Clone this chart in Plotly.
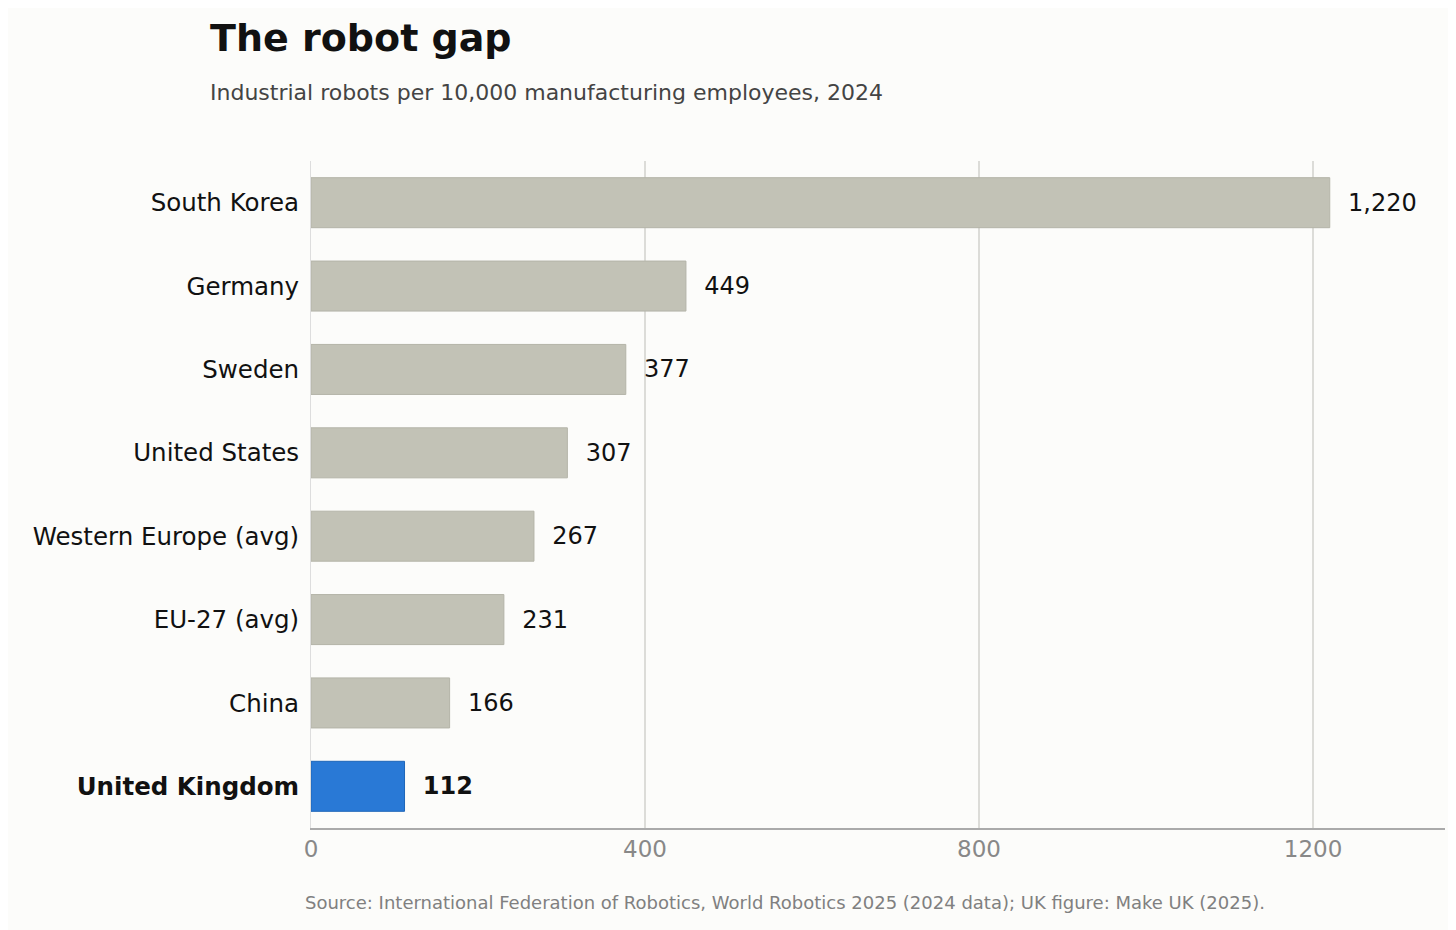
import plotly.graph_objects as go

countries = ["South Korea", "Germany", "Sweden", "United States",
             "Western Europe (avg)", "EU-27 (avg)", "China", "United Kingdom"]
robots = [1220, 449, 377, 307, 267, 231, 166, 112]
highlight = "United Kingdom"

GREY = "#C2C2B6"
BLUE = "#2979D6"
BG = "#FCFCFA"

colors = [BLUE if c == highlight else GREY for c in countries]
edges = ["#1F66B8" if c == highlight else "#B4B4A8" for c in countries]
labels = [f"  <b>{v:,}</b>" if c == highlight else f"  {v:,}" for c, v in zip(countries, robots)]
ticks = [f"<b>{c}</b>" if c == highlight else c for c in countries]

# margins in px, used to place the titles in paper coordinates
L, R, T, B = 303, 19, 153, 110
W, H = 1456, 930
pw, ph = W - L - R, H - T - B
def px(x): return (x - L) / pw
def py(y): return (H - B - y) / ph

fig = go.Figure(go.Bar(
    x=robots, y=countries, orientation="h", width=0.6,
    marker=dict(color=colors, line=dict(color=edges, width=1)),
    text=labels, textposition="outside", cliponaxis=False,
    textfont=dict(size=24, color="#111111"), hoverinfo="skip",
))

fig.update_yaxes(autorange="reversed", tickvals=countries, ticktext=ticks,
                 tickfont=dict(size=24.5, color="#111111"), ticks="",
                 showline=True, linecolor="#DDDDDD", linewidth=1,
                 showgrid=False, ticklabelstandoff=6)
fig.update_xaxes(range=[0, 1358], tickvals=[0, 400, 800, 1200],
                 tickfont=dict(size=23, color="#888888"),
                 showgrid=True, gridcolor="#DCDCD8", gridwidth=2,
                 zeroline=False, showline=True, linecolor="#AAAAAA",
                 linewidth=1.5, ticks="")

fig.update_layout(
    width=W, height=H, paper_bgcolor=BG, plot_bgcolor=BG,
    font=dict(family="DejaVu Sans"), showlegend=False,
    margin=dict(l=L, r=R, t=T, b=B), bargap=0.4,
    annotations=[
        dict(text="<b>The robot gap</b>", x=px(200), y=py(30),
             xref="paper", yref="paper", showarrow=False,
             font=dict(size=38, color="#111111"),
             xanchor="left", yanchor="middle"),
        dict(text="Industrial robots per 10,000 manufacturing employees, 2024",
             x=px(200), y=py(84), xref="paper", yref="paper", showarrow=False,
             font=dict(size=22, color="#444444"),
             xanchor="left", yanchor="middle"),
        dict(text="Source: International Federation of Robotics, World Robotics 2025 (2024 data); UK figure: Make UK (2025).",
             x=px(295), y=py(895), xref="paper", yref="paper", showarrow=False,
             font=dict(size=18, color="#808080"),
             xanchor="left", yanchor="middle"),
    ],
)

fig.write_html("out.html")
